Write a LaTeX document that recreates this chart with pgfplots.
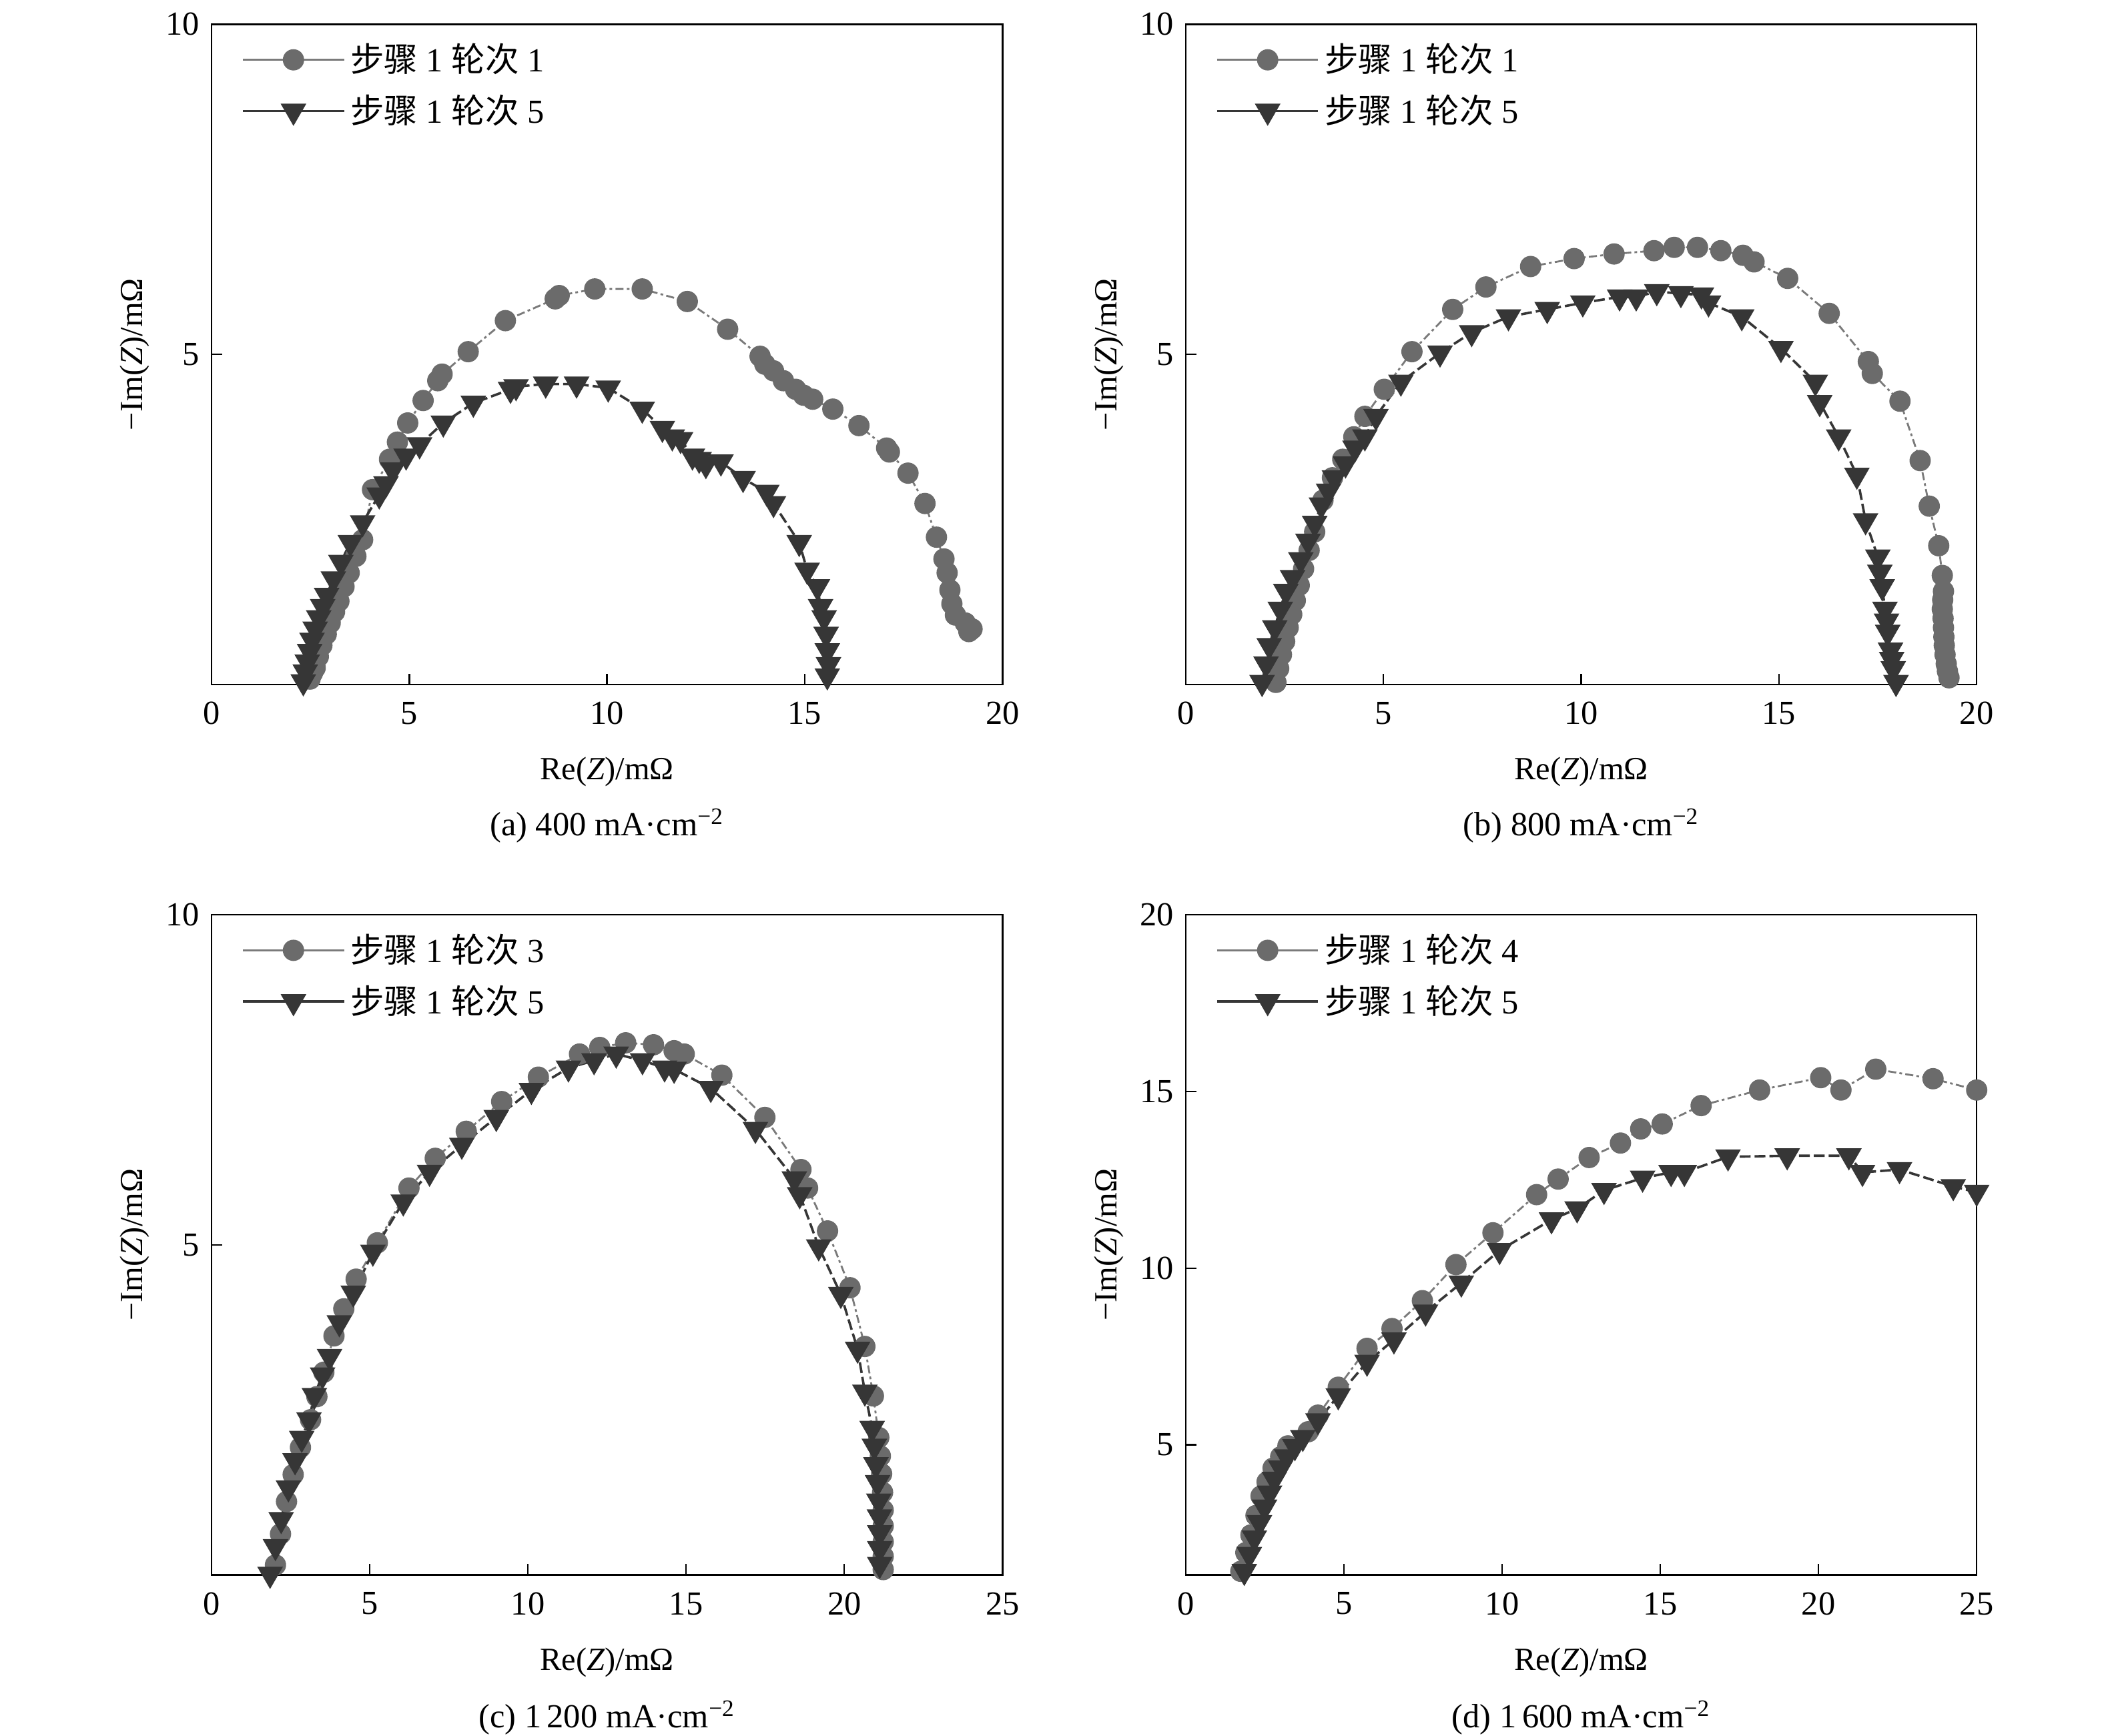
\documentclass[border=0pt]{standalone}
\usepackage{fontspec}
\setmainfont{Liberation Serif}
\newfontfamily\cjk{Noto Sans CJK SC}
\usepackage{pgfplots}
\pgfplotsset{compat=1.18}
\definecolor{c1}{HTML}{6B6B6B}
\definecolor{c1l}{HTML}{7A7A7A}
\definecolor{c2}{HTML}{363636}
\pgfplotsset{
  eis/.style={
    scale only axis, width=293.5pt, height=245pt, anchor=south west,
    axis line style={line width=0.6pt},
    tick align=inside, xtick pos=bottom, ytick pos=left,
    major tick length=4pt, tick style={line width=0.6pt, black},
    /pgf/number format/assume math mode=true,
    font=\fontsize{12}{14}\selectfont,
    ticklabel style={font=\fontsize{12.5}{14}\selectfont},
    xticklabel style={yshift=-3pt},
    yticklabel style={xshift=-1pt},
    xlabel={Re(\textit{Z})/mΩ}, ylabel={−Im(\textit{Z})/mΩ},
    xlabel style={at={(axis description cs:0.5,0)}, anchor=center, yshift=-32.5pt},
    ylabel style={at={(axis description cs:0,0.5)}, anchor=center, yshift=28.5pt},
    legend style={at={(axis description cs:0,1)}, anchor=north west, xshift=8pt, yshift=-3pt,
      draw=none, fill=none, font=\fontsize{12.5}{14}\selectfont, row sep=3pt,
      nodes={inner sep=2pt}},
    legend cell align=left,
    legend image code/.code={\draw[mark repeat=2,mark phase=2,##1,solid] plot coordinates {(0pt,0pt) (18.75pt,0pt) (37.5pt,0pt)};},
  },
  s1/.style={color=c1l, dash pattern=on 3pt off 1.2pt on 1pt off 1.2pt, line width=0.7pt,
    mark=*, mark size=3.6pt, mark options={solid, fill=c1, draw=c1}},
  s2/.style={color=c2, dash pattern=on 4pt off 1.5pt, line width=0.9pt,
    mark=triangle*, mark size=4.6pt, mark options={solid, rotate=180, fill=c2, draw=c2}},
}
\begin{document}
\begin{tikzpicture}
% (a)
\begin{axis}[eis, at={(78.5pt,-254pt)}, xmin=0, xmax=20, ymin=0, ymax=10,
  xtick={0,5,10,15,20}, ytick={5,10}]
\addplot[s1] coordinates {
(2.49,0.08)(2.55,0.17)(2.62,0.25)(2.7,0.42)(2.79,0.59)(2.9,0.76)(3.0,0.93)(3.11,1.1)(3.22,1.26)(3.35,1.48)(3.48,1.69)(3.65,1.94)(3.82,2.19)(4.07,2.95)
(4.5,3.41)(4.7,3.67)(4.96,3.96)(5.35,4.3)(5.72,4.6)(5.83,4.7)(6.49,5.04)(7.43,5.51)
(8.69,5.84)(8.79,5.89)(9.69,5.99)(10.89,5.99)(12.03,5.8)(13.05,5.38)(13.87,4.97)(13.99,4.85)
(14.21,4.75)(14.46,4.6)(14.77,4.47)(14.97,4.38)(15.2,4.32)(15.71,4.17)(16.37,3.92)(17.07,3.58)
(17.14,3.52)(17.61,3.2)(18.04,2.74)(18.33,2.23)(18.52,1.9)(18.6,1.69)(18.67,1.43)(18.72,1.22)
(18.81,1.05)(19.06,0.93)(19.23,0.84)(19.15,0.8)};
\addplot[s2] coordinates {
(2.32,0.04)(2.37,0.19)(2.42,0.34)(2.48,0.5)(2.54,0.67)(2.62,0.84)(2.71,1.01)(2.81,1.18)(2.91,1.35)(3.08,1.6)(3.27,1.85)(3.51,2.15)
(3.82,2.45)(4.24,2.87)(4.41,3.04)(4.58,3.25)(4.92,3.46)(5.26,3.63)(5.86,3.96)(6.62,4.26)
(7.56,4.47)(7.7,4.51)(8.45,4.55)(9.23,4.55)(10.03,4.49)(10.89,4.17)(11.4,3.88)(11.65,3.75)
(11.86,3.71)(12.16,3.46)(12.33,3.41)(12.5,3.33)(12.88,3.37)(13.44,3.12)(14.04,2.91)(14.21,2.74)
(14.86,2.15)(15.06,1.73)(15.32,1.48)(15.4,1.18)(15.49,1.01)(15.54,0.76)(15.57,0.51)(15.6,0.3)
(15.57,0.13)};
\legend{{\cjk 步骤} 1 {\cjk 轮次} 1, {\cjk 步骤} 1 {\cjk 轮次} 5}
\end{axis}
% (b)
\begin{axis}[eis, at={(440pt,-254pt)}, xmin=0, xmax=20, ymin=0, ymax=10,
  xtick={0,5,10,15,20}, ytick={5,10}]
\addplot[s1] coordinates {
(2.28,0.03)(2.35,0.24)(2.42,0.45)(2.5,0.65)(2.59,0.86)(2.68,1.06)(2.77,1.27)(2.87,1.5)(2.98,1.75)(3.12,2.03)(3.26,2.31)(3.47,2.79)(3.71,3.13)
(3.97,3.41)(4.25,3.75)(4.53,4.06)(5.02,4.47)(5.72,5.04)(6.75,5.68)(7.59,6.02)(8.72,6.33)
(9.82,6.45)(10.83,6.52)(11.84,6.57)(12.35,6.62)(12.94,6.62)(13.53,6.57)(14.09,6.5)(14.37,6.4)
(15.22,6.15)(16.27,5.62)(17.26,4.89)(17.36,4.71)(18.06,4.29)(18.57,3.39)(18.8,2.7)(19.04,2.1)
(19.13,1.65)(19.16,1.41)(19.14,1.28)(19.13,1.14)(19.15,1.0)(19.16,0.86)(19.17,0.72)(19.18,0.59)(19.2,0.45)(19.23,0.31)(19.26,0.2)(19.3,0.1)};
\addplot[s2] coordinates {
(1.93,0.03)(2.03,0.31)(2.11,0.59)(2.25,0.86)(2.39,1.14)(2.53,1.41)(2.7,1.62)(2.91,1.89)
(3.09,2.17)(3.26,2.44)(3.43,2.72)(3.61,2.93)(3.76,3.13)(4.04,3.34)(4.28,3.58)(4.53,3.75)
(4.81,4.06)(5.44,4.58)(6.43,5.02)(7.23,5.33)(8.16,5.57)(9.14,5.68)(10.04,5.78)(10.97,5.87)
(11.39,5.87)(11.91,5.95)(12.52,5.92)(13.04,5.9)(13.22,5.78)(14.06,5.57)(15.05,5.09)(15.92,4.58)
(16.03,4.27)(16.51,3.75)(16.97,3.17)(17.19,2.48)(17.5,1.93)(17.55,1.7)(17.61,1.48)(17.68,1.14)(17.72,0.96)(17.75,0.79)
(17.82,0.52)(17.85,0.38)(17.89,0.24)(17.96,0.03)};
\legend{{\cjk 步骤} 1 {\cjk 轮次} 1, {\cjk 步骤} 1 {\cjk 轮次} 5}
\end{axis}
% (c)
\begin{axis}[eis, at={(78.5pt,-584.5pt)}, xmin=0, xmax=25, ymin=0, ymax=10,
  xtick={0,5,10,15,20,25}, ytick={5,10}]
\addplot[s1] coordinates {
(2.02,0.15)(2.18,0.62)(2.37,1.11)(2.58,1.52)(2.81,1.93)(3.13,2.35)(3.33,2.7)(3.55,3.07)(3.87,3.62)(4.18,4.03)(4.57,4.48)
(5.24,5.03)(6.24,5.86)(7.07,6.31)(8.05,6.72)(9.17,7.17)(10.33,7.54)(11.63,7.89)(12.27,7.99)
(13.09,8.06)(13.97,8.03)(14.62,7.94)(14.94,7.89)(16.13,7.57)(17.49,6.93)(18.63,6.14)(18.84,5.86)
(19.47,5.21)(20.18,4.35)(20.65,3.46)(20.92,2.71)(21.09,2.08)(21.14,1.8)(21.18,1.53)(21.21,1.25)(21.23,0.98)(21.23,0.74)(21.23,0.5)(21.23,0.28)
(21.23,0.08)};
\addplot[s2] coordinates {
(1.85,0.01)(2.02,0.43)(2.2,0.84)(2.43,1.32)(2.64,1.73)(2.85,2.07)(3.08,2.35)(3.25,2.72)
(3.51,3.03)(3.73,3.31)(4.04,3.82)(4.48,4.27)(5.1,4.89)(6.06,5.65)(6.89,6.1)(7.91,6.51)
(9.0,6.93)(10.11,7.34)(11.28,7.68)(12.09,7.79)(12.79,7.89)(13.62,7.79)(14.32,7.68)(14.62,7.66)
(15.78,7.37)(17.19,6.75)(18.42,6.0)(18.59,5.76)(19.19,4.97)(19.89,4.25)(20.42,3.42)(20.65,2.77)
(20.88,2.22)(20.95,1.95)(21.0,1.67)(21.05,1.4)(21.09,1.12)(21.11,0.88)(21.12,0.64)(21.12,0.4)(21.12,0.16)};
\legend{{\cjk 步骤} 1 {\cjk 轮次} 3, {\cjk 步骤} 1 {\cjk 轮次} 5}
\end{axis}
% (d)
\begin{axis}[eis, at={(440pt,-584.5pt)}, xmin=0, xmax=25, ymin=1.32, ymax=20,
  xtick={0,5,10,15,20,25}, ytick={5,10,15,20}]
\addplot[s1] coordinates {
(1.74,1.42)(1.9,1.95)(2.06,2.45)(2.22,3.0)(2.38,3.55)(2.57,3.95)(2.76,4.34)(3.0,4.66)(3.23,4.97)(3.87,5.37)(4.18,5.84)(4.82,6.63)
(5.73,7.73)(6.52,8.29)(7.48,9.08)(8.54,10.1)(9.71,11.0)(11.09,12.08)(11.77,12.52)(12.75,13.13)
(13.74,13.54)(14.38,13.94)(15.06,14.08)(16.29,14.6)(18.14,15.04)(20.07,15.39)(20.71,15.04)
(21.81,15.63)(23.62,15.36)(25.0,15.04)};
\addplot[s2] coordinates {
(1.85,1.42)(2.01,1.9)(2.17,2.37)(2.33,2.8)(2.49,3.24)(2.65,3.64)(2.8,4.03)(3.0,4.35)(3.19,4.66)(3.45,4.95)(3.7,5.21)(4.18,5.68)(4.82,6.39)
(5.73,7.34)(6.58,7.97)(7.58,8.76)(8.71,9.58)(9.92,10.5)(11.56,11.37)(12.37,11.68)(13.22,12.2)
(14.44,12.55)(15.34,12.71)(15.76,12.71)(17.14,13.15)(19.01,13.18)(20.96,13.18)(21.39,12.71)
(22.56,12.79)(24.26,12.31)(25.0,12.15)};
\legend{{\cjk 步骤} 1 {\cjk 轮次} 4, {\cjk 步骤} 1 {\cjk 轮次} 5}
\end{axis}
\begin{scope}[every node/.style={font=\fontsize{12.5}{14}\selectfont, anchor=center}]
\node at (225.25pt,-306.5pt) {(a) 400 mA·cm\textsuperscript{−2}};
\node at (586.75pt,-306.5pt) {(b) 800 mA·cm\textsuperscript{−2}};
\node at (225.25pt,-637.5pt) {(c) 1\,200 mA·cm\textsuperscript{−2}};
\node at (586.75pt,-637.5pt) {(d) 1\,600 mA·cm\textsuperscript{−2}};
\end{scope}
\pgfresetboundingbox
\path[use as bounding box] (0pt,0pt) rectangle (780pt,-644.3pt);
\end{tikzpicture}
\end{document}
